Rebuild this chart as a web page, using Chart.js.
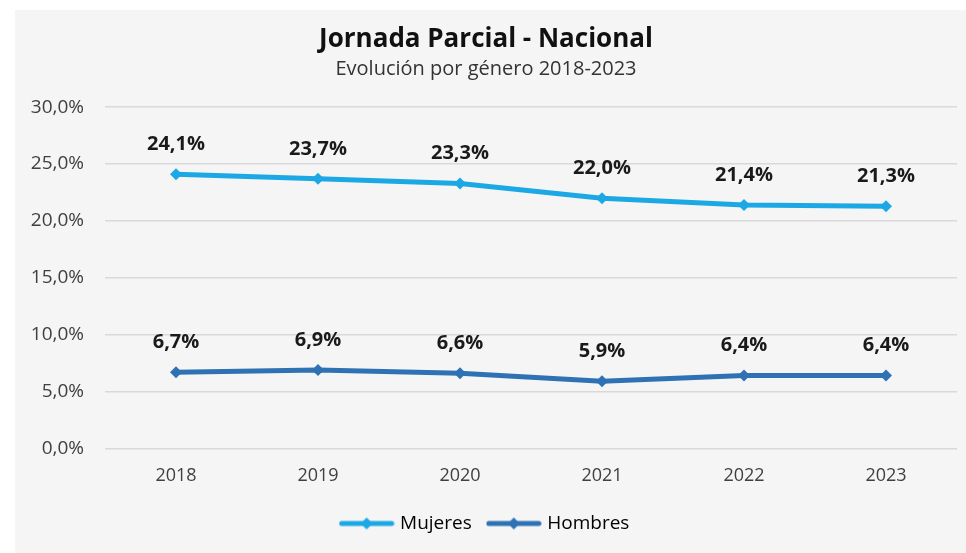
<!DOCTYPE html>
<html>
<head>
<meta charset="utf-8">
<script src="https://cdn.jsdelivr.net/npm/chart.js@4"></script>
<style>
  html, body { margin: 0; padding: 0; background: #fff; }
  #panel { position: absolute; left: 15px; top: 10px; width: 951px; height: 543px; background: #f5f5f5; }
  #chart { display: block; }
</style>
</head>
<body>
<div id="panel"><canvas id="chart" width="951" height="543"></canvas></div>
<script>
// === Datos ===
const years = ['2018', '2019', '2020', '2021', '2022', '2023'];
const mujeres = [24.1, 23.7, 23.3, 22.0, 21.4, 21.3];
const hombres = [6.7, 6.9, 6.6, 5.9, 6.4, 6.4];
const yTicks = [0, 5, 10, 15, 20, 25, 30];

const FONT = "'Open Sans', 'Noto Sans', sans-serif";
const C_MUJ = '#1ca8e4';
const C_HOM = '#2e72b4';

const fmt = v => v.toFixed(1).replace('.', ',') + '%';

// icono de leyenda: linea con rombo
function legendIcon(color) {
  const c = document.createElement('canvas');
  c.width = 56; c.height = 14;
  const g = c.getContext('2d');
  g.strokeStyle = color; g.lineWidth = 5; g.lineCap = 'round';
  g.beginPath(); g.moveTo(3, 7); g.lineTo(53, 7); g.stroke();
  g.fillStyle = color;
  g.beginPath(); g.moveTo(28, 1); g.lineTo(34, 7); g.lineTo(28, 13); g.lineTo(22, 7); g.closePath(); g.fill();
  return c;
}

// etiquetas de valores encima de cada punto
const valueLabels = {
  id: 'valueLabels',
  afterDatasetsDraw(chart) {
    const ctx = chart.ctx;
    ctx.save();
    ctx.font = 'bold 20px ' + FONT;
    ctx.fillStyle = '#1a1a1a';
    ctx.textAlign = 'center';
    ctx.textBaseline = 'middle';
    chart.data.datasets.forEach((ds, i) => {
      chart.getDatasetMeta(i).data.forEach((pt, j) => {
        ctx.fillText(fmt(ds.data[j]), pt.x, pt.y - 30);
      });
    });
    ctx.restore();
  }
};

new Chart(document.getElementById('chart'), {
  type: 'line',
  data: {
    labels: years,
    datasets: [
      {
        label: 'Mujeres',
        data: mujeres,
        borderColor: C_MUJ,
        backgroundColor: C_MUJ,
        borderWidth: 5,
        pointStyle: 'rectRot',
        pointRadius: 6,
        pointBorderWidth: 0,
        tension: 0
      },
      {
        label: 'Hombres',
        data: hombres,
        borderColor: C_HOM,
        backgroundColor: C_HOM,
        borderWidth: 5,
        pointStyle: 'rectRot',
        pointRadius: 6,
        pointBorderWidth: 0,
        tension: 0
      }
    ]
  },
  options: {
    responsive: false,
    animation: false,
    layout: { padding: { left: 0, right: 9, top: 2, bottom: 10 } },
    scales: {
      x: {
        offset: true,
        grid: { display: false },
        border: { display: false },
        ticks: { color: '#404040', font: { family: FONT, size: 18 }, padding: 9 }
      },
      y: {
        min: 0,
        max: 30,
        afterBuildTicks: s => { s.ticks = yTicks.map(v => ({ value: v })); },
        afterFit: s => { s.width = 90; },
        grid: { color: '#d9d9d9', lineWidth: 1.5, drawTicks: false },
        border: { display: false },
        ticks: {
          color: '#404040',
          font: { family: FONT, size: 19 },
          padding: 21,
          callback: v => fmt(v)
        }
      }
    },
    plugins: {
      title: {
        display: true,
        text: 'Jornada Parcial - Nacional',
        color: '#111',
        font: { family: FONT, size: 26, weight: 'bold' },
        padding: { top: 12, bottom: 2 }
      },
      subtitle: {
        display: true,
        text: 'Evolución por género 2018-2023',
        color: '#333',
        font: { family: FONT, size: 20 },
        padding: { bottom: 26 }
      },
      legend: {
        position: 'bottom',
        labels: {
          usePointStyle: true,
          pointStyleWidth: 48,
          color: '#222',
          font: { family: FONT, size: 19 },
          padding: 18,
          generateLabels: chart => chart.data.datasets.map((ds, i) => ({
            text: ds.label,
            pointStyle: legendIcon(ds.borderColor),
            fillStyle: ds.borderColor,
            strokeStyle: ds.borderColor,
            lineWidth: 0,
            datasetIndex: i,
            hidden: false
          }))
        }
      },
      tooltip: { enabled: false }
    }
  },
  plugins: [valueLabels]
});
</script>
</body>
</html>
